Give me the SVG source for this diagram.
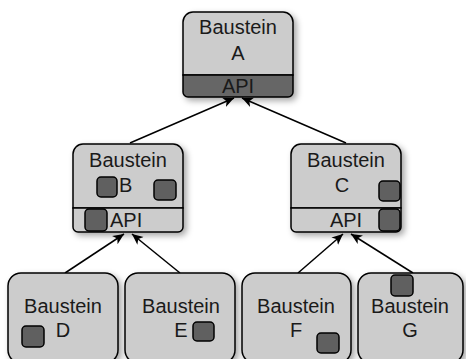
<svg xmlns="http://www.w3.org/2000/svg" width="466" height="359" viewBox="0 0 466 359">
<style>
.box{fill:#cccccc;stroke:#000;stroke-width:1.5}
.api{fill:#cccccc;stroke:#000;stroke-width:1.5}
.apid{fill:#666666;stroke:#000;stroke-width:1.5}
.sq{fill:#606060;stroke:#000;stroke-width:1.5}
.t{font-family:"Liberation Sans",Arial,sans-serif;font-size:20px;fill:#1a1a1a}
.m{text-anchor:middle}
.e{stroke:#000;stroke-width:1.5;fill:none;marker-end:url(#arr)}
</style>
<defs>
<filter id="sh" x="-20%" y="-20%" width="150%" height="150%">
<feDropShadow dx="3" dy="3" stdDeviation="3" flood-color="#000" flood-opacity="0.35"/>
</filter>
<marker id="arr" markerUnits="userSpaceOnUse" markerWidth="12" markerHeight="12" viewBox="0 0 12 12" refX="11" refY="6" orient="auto">
<path d="M0,1 L11,6 L0,11 L3,6 Z" fill="#000"/>
</marker>
</defs>
<g id="connectors">
<line class="e" x1="130" y1="143" x2="234" y2="98"/>
<line class="e" x1="346" y1="143" x2="242" y2="98"/>
<line class="e" x1="65" y1="273" x2="124" y2="234"/>
<line class="e" x1="180" y1="273" x2="132" y2="234"/>
<line class="e" x1="298" y1="273" x2="343" y2="234"/>
<line class="e" x1="413" y1="273" x2="351" y2="234"/>
</g>
<g id="nodeA">
<g filter="url(#sh)">
<path class="box" d="M193,12 H283 A10,10 0 0 1 293,22 V75 H183 V22 A10,10 0 0 1 193,12 Z"/>
<path class="apid" d="M183,75 H293 V92 A5,5 0 0 1 288,97 H188 A5,5 0 0 1 183,92 Z"/>
</g>
<text class="t m" x="238" y="34">Baustein</text>
<text class="t m" x="238" y="60">A</text>
<text class="t m" x="238" y="93">API</text>
</g>
<g id="nodeB">
<g filter="url(#sh)">
<path class="box" d="M83,144 H173 A10,10 0 0 1 183,154 V208 H73 V154 A10,10 0 0 1 83,144 Z"/>
<path class="api" d="M73,208 H183 V227 A5,5 0 0 1 178,232 H78 A5,5 0 0 1 73,227 Z"/>
</g>
<text class="t m" x="128" y="167">Baustein</text>
<text class="t" x="119" y="192">B</text>
<text class="t" x="110" y="227">API</text>
<rect class="sq" x="97" y="177" width="20" height="20" rx="4"/>
<rect class="sq" x="154" y="180" width="22" height="20" rx="4"/>
<rect class="sq" x="85" y="209" width="22" height="22" rx="4"/>
</g>
<g id="nodeC">
<g filter="url(#sh)">
<path class="box" d="M301,144 H391 A10,10 0 0 1 401,154 V208 H291 V154 A10,10 0 0 1 301,144 Z"/>
<path class="api" d="M291,208 H401 V227 A5,5 0 0 1 396,232 H296 A5,5 0 0 1 291,227 Z"/>
</g>
<text class="t m" x="346" y="167">Baustein</text>
<text class="t m" x="342" y="192">C</text>
<text class="t m" x="346" y="227">API</text>
<rect class="sq" x="379" y="181" width="21" height="20" rx="4"/>
<rect class="sq" x="379" y="209" width="21" height="22" rx="4"/>
</g>
<g id="nodeD">
<rect class="box" filter="url(#sh)" x="8" y="273" width="110" height="90" rx="13"/>
<text class="t m" x="63" y="313">Baustein</text>
<text class="t m" x="63" y="337">D</text>
<rect class="sq" x="22" y="326" width="22" height="21" rx="4"/>
</g>
<g id="nodeE">
<rect class="box" filter="url(#sh)" x="125" y="273" width="110" height="90" rx="13"/>
<text class="t m" x="181" y="313">Baustein</text>
<text class="t m" x="181" y="337">E</text>
<rect class="sq" x="193" y="322" width="21" height="19" rx="4"/>
</g>
<g id="nodeF">
<rect class="box" filter="url(#sh)" x="242" y="273" width="109" height="90" rx="13"/>
<text class="t m" x="296" y="313">Baustein</text>
<text class="t m" x="296" y="337">F</text>
<rect class="sq" x="317" y="333" width="22" height="20" rx="4"/>
</g>
<g id="nodeG">
<rect class="box" filter="url(#sh)" x="358" y="273" width="105" height="90" rx="13"/>
<text class="t m" x="410" y="313">Baustein</text>
<text class="t m" x="410" y="337">G</text>
<rect class="sq" x="391" y="275" width="22" height="21" rx="4"/>
</g>
</svg>
